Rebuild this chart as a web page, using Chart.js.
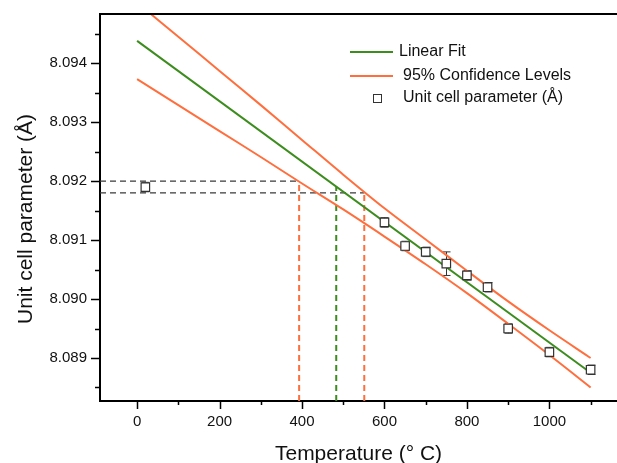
<!DOCTYPE html>
<html>
<head>
<meta charset="utf-8">
<script src="https://cdn.jsdelivr.net/npm/chart.js@4.4.1/dist/chart.umd.min.js"></script>
<style>
  body { margin: 0; background: #fff; }
  canvas { display: block; }
</style>
</head>
<body>
<canvas id="latticeChart" width="617" height="463"></canvas>
<script>
// Measured unit cell parameter (Å) against temperature (°C)
const temps = [20, 600, 650, 700, 750, 800, 850, 900, 1000, 1100];
const cellParam = [8.0919, 8.0913, 8.0909, 8.0908, 8.0906, 8.0904, 8.0902, 8.0895, 8.0891, 8.0888];
const cellErr = [0.00008, 0.00008, 0.00008, 0.00008, 0.0002, 0.00008, 0.00008, 0.00008, 0.00008, 0.00008];

// Linear fit, end points
const fitT = [0, 1100];
const fitY = [8.09438, 8.08875];

// 95% confidence bands
const bandT = [0, 100, 200, 300, 400, 500, 600, 700, 800, 900, 1000, 1100];
const bandUpper = [8.09503, 8.09445, 8.09387, 8.09329, 8.09270, 8.09211, 8.09154, 8.09101, 8.09048, 8.08996, 8.08947, 8.08900];
const bandLower = [8.09373, 8.09329, 8.09285, 8.09241, 8.09196, 8.09152, 8.09106, 8.09059, 8.09010, 8.08958, 8.08905, 8.08850];

// Dashed guides: lower band / fit / upper band at the room temperature value
const guideT = [393, 483, 551];
const guideY = [8.0920, 8.09191, 8.0918];

const xMin = -90, xMax = 1164;
const yMin = 8.08827, yMax = 8.094836;

const green = '#3c8c1e';
const orange = '#ff6e3c';
const fontFamily = '"Liberation Sans", Arial, sans-serif';

const pts = (xs, ys) => xs.map((v, i) => ({ x: v, y: ys[i] }));

const dashed = (data, color, width) => ({
  data: data,
  showLine: true,
  borderColor: color,
  borderWidth: width,
  borderDash: [6, 4],
  pointRadius: 0,
  order: 5
});

const extras = {
  id: 'extras',
  beforeDatasetsDraw(chart) {
    // error bars go under the square markers
    const { ctx, scales: { x, y } } = chart;
    ctx.save();
    ctx.strokeStyle = '#333';
    ctx.lineWidth = 1;
    temps.forEach((t, i) => {
      const px = Math.round(x.getPixelForValue(t)) + 0.5;
      const top = y.getPixelForValue(cellParam[i] + cellErr[i]);
      const bot = y.getPixelForValue(cellParam[i] - cellErr[i]);
      ctx.beginPath();
      ctx.moveTo(px, top); ctx.lineTo(px, bot);
      ctx.moveTo(px - 4, top); ctx.lineTo(px + 4, top);
      ctx.moveTo(px - 4, bot); ctx.lineTo(px + 4, bot);
      ctx.stroke();
    });
    ctx.restore();
  },
  afterDraw(chart) {
    const { ctx, chartArea: a, scales: { x, y } } = chart;
    ctx.save();

    // top frame line
    ctx.strokeStyle = '#000';
    ctx.lineWidth = 2;
    ctx.beginPath();
    ctx.moveTo(a.left - 1, a.top);
    ctx.lineTo(a.right, a.top);
    ctx.stroke();

    // tick marks, longer where there is a label
    ctx.lineWidth = 1.5;
    ctx.beginPath();
    x.ticks.forEach(t => {
      const px = Math.round(x.getPixelForValue(t.value)) + 0.5;
      ctx.moveTo(px, a.bottom);
      ctx.lineTo(px, a.bottom + (t.label ? 8 : 4));
    });
    y.ticks.forEach(t => {
      const py = Math.round(y.getPixelForValue(t.value)) + 0.5;
      ctx.moveTo(a.left, py);
      ctx.lineTo(a.left - (t.label ? 9 : 5), py);
    });
    ctx.stroke();

    // axis titles
    ctx.fillStyle = '#111';
    ctx.font = '21px ' + fontFamily;
    ctx.textAlign = 'center';
    ctx.textBaseline = 'middle';
    ctx.fillText('Temperature (° C)', (a.left + a.right) / 2, 454);
    ctx.save();
    ctx.translate(26, 219);
    ctx.rotate(-Math.PI / 2);
    ctx.fillText('Unit cell parameter (Å)', 0, 0);
    ctx.restore();

    // legend
    ctx.font = '16px ' + fontFamily;
    ctx.textAlign = 'left';
    ctx.lineWidth = 2;
    ctx.strokeStyle = green;
    ctx.beginPath(); ctx.moveTo(350, 52); ctx.lineTo(393, 52); ctx.stroke();
    ctx.fillText('Linear Fit', 399, 52);
    ctx.strokeStyle = orange;
    ctx.beginPath(); ctx.moveTo(350, 76); ctx.lineTo(393, 76); ctx.stroke();
    ctx.fillText('95% Confidence Levels', 403, 76);
    ctx.strokeStyle = '#333';
    ctx.lineWidth = 1;
    ctx.strokeRect(373.5, 94.5, 8, 8);
    ctx.fillText('Unit cell parameter (Å)', 403, 98);

    ctx.restore();
  }
};

new Chart(document.getElementById('latticeChart'), {
  type: 'scatter',
  data: {
    datasets: [
      {
        label: 'Unit cell parameter (Å)',
        data: pts(temps, cellParam),
        pointStyle: 'rect',
        pointRadius: 6,
        pointBackgroundColor: '#fff',
        pointBorderColor: '#333',
        pointBorderWidth: 1.2,
        order: 0
      },
      {
        label: 'Linear Fit',
        data: pts(fitT, fitY),
        showLine: true,
        borderColor: green,
        borderWidth: 2,
        pointRadius: 0,
        order: 2
      },
      {
        label: '95% Confidence Levels',
        data: pts(bandT, bandUpper),
        showLine: true,
        tension: 0.3,
        borderColor: orange,
        borderWidth: 2,
        pointRadius: 0,
        order: 3
      },
      {
        data: pts(bandT, bandLower),
        showLine: true,
        tension: 0.3,
        borderColor: orange,
        borderWidth: 2,
        pointRadius: 0,
        order: 3
      },
      dashed([{ x: xMin, y: guideY[0] }, { x: guideT[0], y: guideY[0] }], '#3a3a3a', 1.3),
      dashed([{ x: xMin, y: guideY[2] }, { x: guideT[2], y: guideY[2] }], '#3a3a3a', 1.3),
      dashed([{ x: guideT[0], y: yMin }, { x: guideT[0], y: guideY[0] }], orange, 2),
      dashed([{ x: guideT[1], y: yMin }, { x: guideT[1], y: guideY[1] }], green, 2),
      dashed([{ x: guideT[2], y: yMin }, { x: guideT[2], y: guideY[2] }], orange, 2)
    ]
  },
  options: {
    responsive: false,
    animation: false,
    layout: { autoPadding: false, padding: { top: 14, right: 0, bottom: 0, left: 0 } },
    plugins: {
      legend: { display: false },
      tooltip: { enabled: false }
    },
    scales: {
      x: {
        type: 'linear',
        min: xMin,
        max: xMax,
        afterFit: s => { s.height = 62; },
        // grid hidden: tick marks are drawn by the plugin, tickLength only spaces the labels
        grid: { display: false, drawTicks: true, tickLength: 8 },
        border: { color: '#000', width: 2 },
        ticks: {
          stepSize: 100,
          includeBounds: false,
          autoSkip: false,
          maxRotation: 0,
          maxTicksLimit: 100,
          padding: 4,
          color: '#111',
          font: { family: fontFamily, size: 15 },
          callback: v => (Math.round(v) % 200 === 0 ? String(Math.round(v)) : '')
        }
      },
      y: {
        type: 'linear',
        min: yMin,
        max: yMax,
        afterFit: s => { s.width = 100; },
        grid: { display: false, drawTicks: true, tickLength: 9 },
        border: { color: '#000', width: 2 },
        ticks: {
          stepSize: 0.0005,
          includeBounds: false,
          autoSkip: false,
          maxTicksLimit: 100,
          padding: 4,
          color: '#111',
          font: { family: fontFamily, size: 15 },
          callback: v => {
            const k = Math.round(v * 1000);
            return Math.abs(v * 1000 - k) < 1e-6 ? v.toFixed(3) : '';
          }
        }
      }
    }
  },
  plugins: [extras]
});
</script>
</body>
</html>
